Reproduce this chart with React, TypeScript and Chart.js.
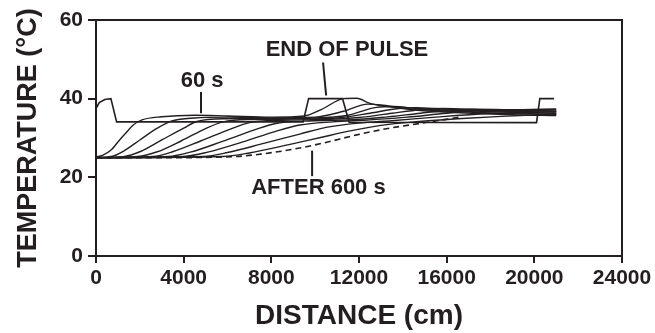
import React, { useEffect, useRef } from "react";
import { Chart, registerables } from "chart.js";

Chart.register(...registerables);

// ---- data (distance in cm, temperature in °C) ----
const xTickValues = [0, 4000, 8000, 12000, 16000, 20000, 24000];
const yTickValues = [0, 20, 40, 60];

const endOfPulse: [number, number][] = [
  [0, 37.5], [150, 39], [400, 39.8], [680, 40], [940, 34.1], [9450, 34.1],
  [9700, 40], [11250, 40], [11550, 34], [20100, 33.9], [20250, 40], [20900, 40],
];
const t60: [number, number][] = [
  [0, 25.2], [300, 25.6], [700, 27], [1000, 29], [1350, 31.2], [1700, 33.3], [2100, 34.6],
  [3000, 35.4], [4500, 35.8], [6000, 35.6], [8000, 35.3], [9500, 35.6], [10300, 37.3],
  [11300, 40], [11900, 40.1], [12500, 38.8], [13400, 37.9], [14800, 37.0], [16600, 36.4],
  [19000, 35.9], [21000, 35.7],
];
const t120: [number, number][] = [
  [0, 25], [700, 25.3], [1200, 26.5], [2000, 29.5], [2800, 32.5], [3500, 34.4], [4500, 35.1],
  [6000, 35.3], [8000, 35.1], [10000, 35.3], [11300, 36.8], [12400, 38.6], [13000, 38.4],
  [14000, 37.6], [15500, 37.0], [17500, 36.5], [21000, 36.0],
];
const t180: [number, number][] = [
  [0, 25], [1300, 25.3], [2000, 26.5], [3000, 29.5], [4000, 32.5], [4600, 34.2], [6000, 34.9],
  [8000, 35], [10000, 35.1], [11500, 35.8], [12800, 37.8], [13600, 38], [14600, 37.5],
  [16000, 37.1], [18000, 36.7], [21000, 36.3],
];
const t240: [number, number][] = [
  [0, 25], [1900, 25.3], [2800, 26.5], [3900, 29.3], [5000, 32.4], [5800, 34.1], [7000, 34.7],
  [9000, 34.8], [11000, 35.1], [12500, 36.3], [13800, 37.5], [14600, 37.7], [15800, 37.4],
  [17500, 37.0], [21000, 36.6],
];
const t300: [number, number][] = [
  [0, 25], [2600, 25.3], [3500, 26.5], [4800, 29.3], [6100, 32.2], [7000, 33.9], [8500, 34.5],
  [10500, 34.7], [12000, 35.2], [13500, 36.3], [14800, 37.2], [15800, 37.5], [17000, 37.3],
  [19000, 37.0], [21000, 36.9],
];
const t360: [number, number][] = [
  [0, 25], [3300, 25.3], [4300, 26.4], [5800, 29.2], [7200, 32], [8200, 33.7], [9500, 34.3],
  [11500, 34.6], [13000, 35.2], [14800, 36.3], [16000, 37.0], [17300, 37.3], [19000, 37.2],
  [21000, 37.2],
];
const t420: [number, number][] = [
  [0, 25], [4000, 25.3], [5100, 26.4], [6700, 29], [8200, 31.7], [9300, 33.3], [10800, 34.1],
  [12500, 34.6], [14200, 35.3], [16000, 36.3], [17500, 36.9], [19000, 37.1], [21000, 37.4],
];
const t480: [number, number][] = [
  [0, 25], [4900, 25.3], [6000, 26.3], [7700, 28.7], [9300, 31], [10500, 32.7], [12000, 33.8],
  [13500, 34.4], [15500, 35.3], [17500, 36.1], [19500, 36.5], [21000, 36.7],
];
const t540: [number, number][] = [
  [0, 25], [5800, 25.3], [7000, 26.2], [8800, 28.3], [10300, 30.2], [11600, 31.8], [13000, 33.2],
  [14500, 34.1], [16500, 34.9], [18500, 35.5], [21000, 36.1],
];
const t600: [number, number][] = [
  [0, 25], [3000, 25], [6400, 25.3], [7500, 25.9], [8850, 27], [10360, 28.7], [11900, 30.8],
  [13400, 32.5], [14900, 33.8], [16600, 35.3],
];

const solidCurves = [t60, t120, t180, t240, t300, t360, t420, t480, t540];

// annotation texts with anchor (x, temperature) and pointer line ends
const annotationTexts = ["60 s", "END OF PULSE", "AFTER 600 s"];
const annotationAt: [number, number][] = [[4840, 44.6], [11450, 52.4], [10150, 17.2]];
const pointerFrom: [number, number][] = [[4790, 41.7], [10360, 49.2], [9860, 26.8]];
const pointerTo: [number, number][] = [[4790, 36.3], [10500, 40.8], [9860, 20.3]];

const INK = "#231f20";
const FONT = "'Liberation Sans', Arial, sans-serif";

const toPts = (arr: [number, number][]) => arr.map(([x, y]) => ({ x, y }));

export default function App() {
  const ref = useRef<HTMLCanvasElement | null>(null);

  useEffect(() => {
    if (!ref.current) return;

    const frame = {
      id: "frame",
      afterDraw(chart: any) {
        const { ctx, chartArea } = chart;
        const xs = chart.scales.x;
        const ys = chart.scales.y;
        ctx.save();
        ctx.strokeStyle = INK;
        ctx.lineWidth = 2;
        ctx.beginPath();
        ctx.moveTo(chartArea.left - 1, chartArea.top);
        ctx.lineTo(chartArea.right, chartArea.top);
        ctx.lineTo(chartArea.right, chartArea.bottom);
        ctx.stroke();
        // annotations
        ctx.fillStyle = INK;
        ctx.font = `bold 22px ${FONT}`;
        ctx.textAlign = "center";
        ctx.textBaseline = "middle";
        annotationTexts.forEach((t, i) => {
          const [ax, ay] = annotationAt[i];
          ctx.fillText(t, xs.getPixelForValue(ax), ys.getPixelForValue(ay));
          const [fx, fy] = pointerFrom[i];
          const [tx, ty] = pointerTo[i];
          ctx.lineWidth = 2;
          ctx.beginPath();
          ctx.moveTo(xs.getPixelForValue(fx), ys.getPixelForValue(fy));
          ctx.lineTo(xs.getPixelForValue(tx), ys.getPixelForValue(ty));
          ctx.stroke();
        });
        ctx.restore();
      },
    };

    const datasets: any[] = [];
    datasets.push({
      data: toPts(endOfPulse),
      borderColor: INK,
      borderWidth: 1.6,
      pointRadius: 0,
      tension: 0,
    });
    solidCurves.forEach((c) =>
      datasets.push({
        data: toPts(c),
        borderColor: INK,
        borderWidth: 1.4,
        pointRadius: 0,
        cubicInterpolationMode: "monotone",
      })
    );
    datasets.push({
      data: toPts(t600),
      borderColor: INK,
      borderWidth: 1.6,
      borderDash: [6, 4],
      pointRadius: 0,
      cubicInterpolationMode: "monotone",
    });

    const chart = new Chart(ref.current, {
      type: "line",
      data: { datasets },
      plugins: [frame],
      options: {
        animation: false,
        responsive: false,
        maintainAspectRatio: false,
        layout: { padding: { left: 0, right: 33, top: 20, bottom: 0 } },
        plugins: { legend: { display: false }, tooltip: { enabled: false } },
        scales: {
          x: {
            type: "linear",
            min: 0,
            max: 24000,
            afterBuildTicks: (s: any) => {
              s.ticks = xTickValues.map((v) => ({ value: v }));
            },
            afterFit: (s: any) => {
              s.height = 77;
            },
            grid: { display: true, drawOnChartArea: false, drawTicks: true, tickLength: 7, color: INK, lineWidth: 2 },
            border: { display: true, color: INK, width: 2 },
            ticks: {
              color: INK,
              padding: 3,
              maxRotation: 0,
              autoSkip: false,
              font: { family: FONT, size: 21, weight: "bold" },
              callback: (v: any) => String(v),
            },
            title: {
              display: true,
              text: "DISTANCE (cm)",
              color: INK,
              padding: { top: 6, bottom: 0 },
              font: { family: FONT, size: 28, weight: "bold" },
            },
          },
          y: {
            type: "linear",
            min: 0,
            max: 60,
            afterBuildTicks: (s: any) => {
              s.ticks = yTickValues.map((v) => ({ value: v }));
            },
            afterFit: (s: any) => {
              s.width = 96;
            },
            grid: { display: true, drawOnChartArea: false, drawTicks: true, tickLength: 8, color: INK, lineWidth: 2 },
            border: { display: true, color: INK, width: 2 },
            ticks: {
              color: INK,
              padding: 5,
              font: { family: FONT, size: 21, weight: "bold" },
              callback: (v: any) => String(v),
            },
            title: {
              display: true,
              text: "TEMPERATURE (°C)",
              color: INK,
              padding: { top: 12, bottom: 0 },
              font: { family: FONT, size: 27, weight: "bold" },
            },
          },
        },
      },
    } as any);

    return () => chart.destroy();
  }, []);

  return (
    <div style={{ position: "fixed", left: 0, top: 0, width: 655, height: 333, background: "#fff" }}>
      <canvas ref={ref} width={655} height={333} style={{ width: 655, height: 333, display: "block" }} />
    </div>
  );
}
